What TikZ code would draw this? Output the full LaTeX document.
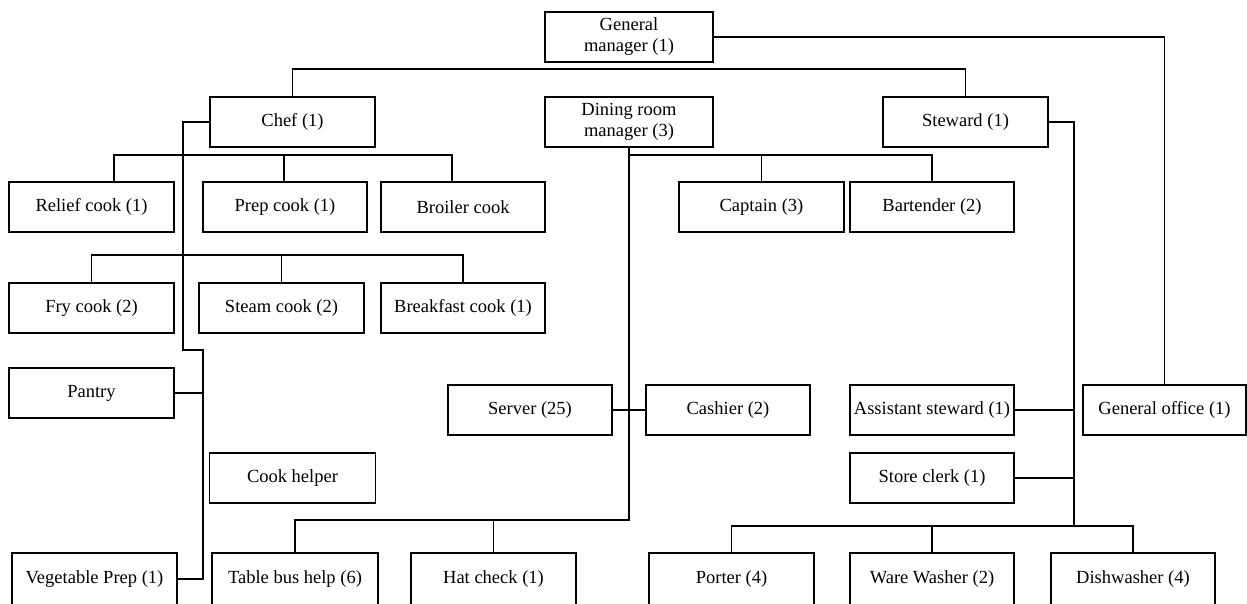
\documentclass[tikz,border=0pt]{standalone}
\usepackage{fontspec}
\setmainfont{Liberation Serif}
\begin{document}
\begin{tikzpicture}[x=1pt,y=-1pt,
  box/.style={draw, line width=1.3pt, minimum width=165pt, minimum height=50pt,
    inner sep=0pt, align=center, font=\fontsize{18.5}{21}\selectfont},
  wide/.style={minimum width=168pt},
  tall/.style={minimum height=52pt},
  link/.style={line width=1.3pt}]
\useasboundingbox (0,0) rectangle (1247,604);

% management
\node[box,wide] (gm) at (629,37) {General\\manager (1)};
\node[box] (chef) at (292.5,122) {Chef (1)};
\node[box,wide] (drm) at (629,122) {Dining room\\manager (3)};
\node[box] (steward) at (965.5,122) {Steward (1)};

% kitchen
\node[box] (relief) at (91.5,207) {Relief cook (1)};
\node[box,minimum width=164pt] (prep) at (285,207) {Prep cook (1)};
\node[box,minimum width=164pt] (broiler) at (463,207) {Broiler cook};
\node[box] (fry) at (91.5,308) {Fry cook (2)};
\node[box] (steam) at (281.5,308) {Steam cook (2)};
\node[box,minimum width=164pt] (breakfast) at (463,308) {Breakfast cook (1)};
\node[box] (pantry) at (91.5,393) {Pantry};
\node[box,minimum width=166pt] (helper) at (292.5,478) {Cook helper};
\node[box,tall] (veg) at (94.5,579) {Vegetable Prep (1)};

% dining room
\node[box] (captain) at (761.5,207) {Captain (3)};
\node[box,minimum width=164pt] (bartender) at (932,207) {Bartender (2)};
\node[box,minimum width=164pt] (server) at (530,410) {Server (25)};
\node[box,minimum width=164pt] (cashier) at (728,410) {Cashier (2)};
\node[box,tall,minimum width=166pt] (bus) at (295,579) {Table bus help (6)};
\node[box,tall] (hat) at (493.5,579) {Hat check (1)};

% stewarding
\node[box,minimum width=164pt] (asst) at (932,410) {Assistant steward (1)};
\node[box,minimum width=164pt] (store) at (932,478) {Store clerk (1)};
\node[box,minimum width=163pt] (office) at (1164.5,410) {General office (1)};
\node[box,tall] (porter) at (731.5,579) {Porter (4)};
\node[box,tall,minimum width=164pt] (ware) at (932,579) {Ware Washer (2)};
\node[box,tall,minimum width=164pt] (dish) at (1133,579) {Dishwasher (4)};

% bus levels and bends
\coordinate (ytop) at (0,69);
\coordinate (ykit) at (0,155);
\coordinate (yfry) at (0,255);
\coordinate (ydin) at (0,520);
\coordinate (yste) at (0,526);
\coordinate (k1) at (183,350);
\coordinate (k2) at (203,350);
\coordinate (sv) at (1074,527);
\coordinate (reliefin) at ([xshift=22.5pt]relief.north);
\coordinate (prepin) at ([xshift=-1pt]prep.north);
\coordinate (broilin) at ([xshift=-11pt]broiler.north);

% general manager
\draw[link] (gm.east) -| (office.north);
\draw[link] (chef.north) |- (ytop -| steward.north) -- (steward.north);

% chef's line
\draw[link] (reliefin) |- (ykit -| broilin) -- (broilin);
\draw[link] (prepin) -- (prepin |- ykit);
\draw[link] (fry.north) |- (yfry -| breakfast.north) -- (breakfast.north);
\draw[link] (steam.north) -- (steam.north |- yfry);
\draw[link] (chef.west) -| (k1) -- (k2) |- (veg.east);
\draw[link] (pantry.east) -- (pantry.east -| k2);

% dining room line
\draw[link] (drm.south) -- (drm.south |- ydin) -| (bus.north);
\draw[link] (hat.north) -- (hat.north |- ydin);
\draw[link] (drm.south |- ykit) -| (bartender.north);
\draw[link] (captain.north) -- (captain.north |- ykit);
\draw[link] (server.east) -- (cashier.west);

% steward's line
\draw[link] (steward.east) -| (sv);
\draw[link] (asst.east) -- (asst.east -| sv);
\draw[link] (store.east) -- (store.east -| sv);
\draw[link] (porter.north) |- (yste -| dish.north) -- (dish.north);
\draw[link] (ware.north) -- (ware.north |- yste);
\end{tikzpicture}
\end{document}
